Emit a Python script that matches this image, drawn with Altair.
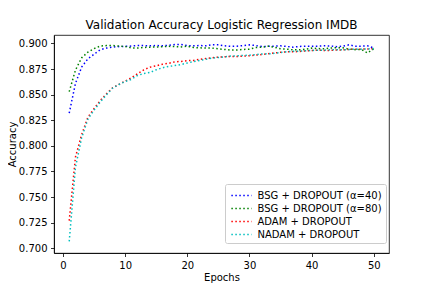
import altair as alt
import pandas as pd

epochs = list(range(1, 51))

bsg40 = [0.832, 0.861, 0.877, 0.885, 0.8895, 0.894, 0.8955, 0.8965, 0.897, 0.8972,
         0.8975, 0.898, 0.898, 0.8977, 0.898, 0.8977, 0.8982, 0.899, 0.899, 0.898,
         0.8977, 0.898, 0.8977, 0.8987, 0.8987, 0.8977, 0.8972, 0.8974, 0.898, 0.8987,
         0.898, 0.8971, 0.8972, 0.8974, 0.8977, 0.8971, 0.8964, 0.8971, 0.8974, 0.8974,
         0.8974, 0.8977, 0.8976, 0.8969, 0.8974, 0.8987, 0.8974, 0.8974, 0.8977, 0.8955]

bsg80 = [0.853, 0.874, 0.886, 0.8915, 0.895, 0.8975, 0.898, 0.898, 0.8975, 0.897,
         0.8958, 0.8955, 0.8961, 0.8964, 0.8966, 0.8968, 0.8972, 0.897, 0.8967, 0.8974,
         0.896, 0.8958, 0.8955, 0.8955, 0.8948, 0.8942, 0.8935, 0.8937, 0.8942, 0.8945,
         0.896, 0.8964, 0.8974, 0.8964, 0.8948, 0.8945, 0.8938, 0.8938, 0.8945, 0.8955,
         0.8951, 0.8948, 0.8955, 0.896, 0.8958, 0.8945, 0.894, 0.8942, 0.8908, 0.8948]

adam = [0.727, 0.789, 0.811, 0.828, 0.8365, 0.8443, 0.851, 0.8568, 0.860, 0.8633,
        0.8665, 0.8705, 0.8743, 0.8769, 0.8782, 0.8798, 0.8806, 0.8821, 0.8825, 0.8832,
        0.8835, 0.8845, 0.8854, 0.886, 0.8867, 0.887, 0.8873, 0.8873, 0.8877, 0.888,
        0.8886, 0.8893, 0.890, 0.8907, 0.8914, 0.8919, 0.8919, 0.8922, 0.8927, 0.8932,
        0.8935, 0.8932, 0.8932, 0.8937, 0.8938, 0.8942, 0.8945, 0.8945, 0.8946, 0.8951]

nadam = [0.7067, 0.779, 0.808, 0.826, 0.835, 0.843, 0.850, 0.8565, 0.860, 0.8628,
         0.865, 0.8688, 0.8707, 0.8717, 0.8743, 0.8763, 0.8776, 0.8785, 0.8794, 0.881,
         0.8822, 0.8835, 0.8847, 0.8857, 0.8863, 0.887, 0.8877, 0.888, 0.8883, 0.8886,
         0.8891, 0.8898, 0.8899, 0.8904, 0.8912, 0.892, 0.8925, 0.8925, 0.8929, 0.8932,
         0.8935, 0.8935, 0.8938, 0.8938, 0.8938, 0.8942, 0.8945, 0.8945, 0.8946, 0.8951]

series_names = ["BSG + DROPOUT (α=40)", "BSG + DROPOUT (α=80)", "ADAM + DROPOUT", "NADAM + DROPOUT"]
series_colors = ["#0000ff", "#008000", "#ff0000", "#00bfbf"]
x_ticks = [0, 10, 20, 30, 40, 50]
y_ticks = [0.700, 0.725, 0.750, 0.775, 0.800, 0.825, 0.850, 0.875, 0.900]

rows = []
for k, (name, vals) in enumerate(zip(series_names, [bsg40, bsg80, adam, nadam])):
    for e, v in zip(epochs, vals):
        rows.append({"epoch": e, "acc": v, "series": name, "k": k})
df = pd.DataFrame(rows)

FONT = "DejaVu Sans"

chart = alt.Chart(df).mark_line(
    strokeDash=[1.5, 2.475], strokeWidth=1.5, clip=True
).encode(
    x=alt.X("epoch:Q",
            scale=alt.Scale(domain=[-1.45, 52.45], nice=False, zero=False),
            axis=alt.Axis(values=x_ticks, title="Epochs", format="d", titlePadding=2)),
    y=alt.Y("acc:Q",
            scale=alt.Scale(domain=[0.6954, 0.9083], nice=False, zero=False),
            axis=alt.Axis(values=y_ticks, title="Accuracy", format=".3f", titlePadding=1)),
    color=alt.Color("series:N",
                    scale=alt.Scale(domain=series_names, range=series_colors),
                    sort=series_names,
                    legend=alt.Legend(
                        title=None, orient="none", legendX=171, legendY=149,
                        symbolType="M-1.45,0H1.45", symbolSize=196,
                        symbolStrokeWidth=1.5, symbolDash=[1.5, 2.475],
                        symbolOffset=5, labelOffset=8,
                        labelFontSize=10, labelFont=FONT, labelColor="black",
                        padding=3.5, rowPadding=0,
                        strokeColor="#cccccc", fillColor="rgba(255,255,255,0.8)",
                        cornerRadius=2, labelLimit=300)),
    order=alt.Order("k:Q"),
    detail="series:N",
).properties(
    width=335, height=218,
    title=alt.TitleParams("Validation Accuracy Logistic Regression IMDB",
                          fontSize=12, font=FONT, fontWeight="normal", color="black",
                          anchor="middle", offset=6, baseline="alphabetic", frame="group",
                          dy=12),
    padding={"left": 46, "top": 27, "right": 35, "bottom": 40},
    autosize="none",
).configure_view(
    stroke="black", strokeWidth=0.8
).configure_axis(
    grid=False, domainColor="black", domainWidth=0.8, tickColor="black", tickWidth=0.8,
    tickSize=3.5, labelPadding=3.5, labelFontSize=10, labelFont=FONT, labelColor="black",
    titleFont=FONT, titleFontSize=10, titleFontWeight="normal", titleColor="black",
    labelFlush=False
)

chart.save("out.html", embed_options={"renderer": "svg", "actions": False})
